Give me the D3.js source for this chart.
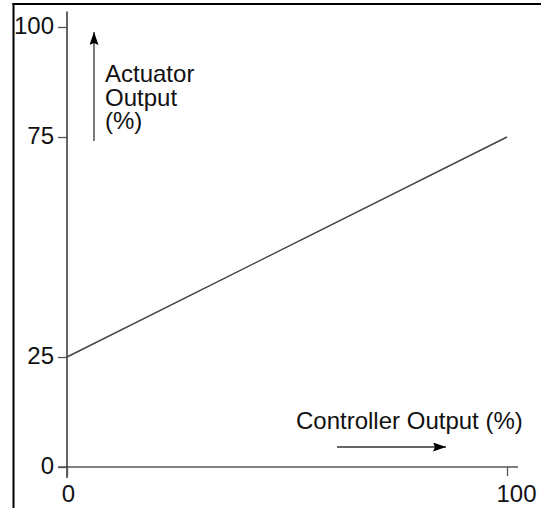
<!DOCTYPE html>
<html>
<head>
<meta charset="utf-8">
<script src="https://cdn.jsdelivr.net/npm/d3@7"></script>
<style>
  html, body { margin: 0; padding: 0; background: #fff; }
  text { font-family: "Liberation Sans", Arial, sans-serif; fill: #111; }
</style>
</head>
<body>
<svg id="chart" width="541" height="508"></svg>
<script>
// Data
const xTicks = [0, 100];
const yTicks = [0, 25, 75, 100];
const controllerOutput = [0, 100];
const actuatorOutput = [25, 75];
const yTitleLines = ["Actuator", "Output", "(%)"];
const xTitle = "Controller Output (%)";

const svg = d3.select("#chart");
const W = 541, H = 508;
const FS = 24;

const x = d3.scaleLinear().domain([0, 100]).range([67, 507]);
const y = d3.scaleLinear().domain([0, 100]).range([467, 27]);

// frame (left and top borders)
svg.append("line").attr("x1", 13.5).attr("x2", 13.5).attr("y1", 3).attr("y2", H)
  .attr("stroke", "#000").attr("stroke-width", 2);
svg.append("line").attr("x1", 12.5).attr("x2", W).attr("y1", 4).attr("y2", 4)
  .attr("stroke", "#000").attr("stroke-width", 2);

// arrow marker
const defs = svg.append("defs");
defs.append("marker").attr("id", "arr").attr("viewBox", "0 0 13 9")
  .attr("refX", 13).attr("refY", 4.5).attr("markerWidth", 13).attr("markerHeight", 9)
  .attr("markerUnits", "userSpaceOnUse").attr("orient", "auto")
  .append("path").attr("d", "M0,0 L13,4.5 L0,9 L2,4.5 Z").attr("fill", "#000");

// x axis line (extended)
svg.append("line").attr("x1", x(-2)).attr("x2", x(102.5)).attr("y1", y(0)).attr("y2", y(0))
  .attr("stroke", "#555").attr("stroke-width", 1.5);
// y axis line (extended)
svg.append("line").attr("x1", x(0)).attr("x2", x(0)).attr("y1", y(103.5)).attr("y2", y(-2.5))
  .attr("stroke", "#111").attr("stroke-width", 1.3);

// Y axis ticks
const yAxis = d3.axisLeft(y).tickValues(yTicks).tickSize(9).tickPadding(4).tickFormat(d3.format("d"));
const gy = svg.append("g").attr("transform", `translate(${x(0)},0)`).call(yAxis);
gy.select(".domain").remove();
gy.selectAll(".tick line").attr("stroke", "#555").attr("stroke-width", 1.3);
gy.selectAll(".tick text").attr("font-size", FS).attr("font-family", "Liberation Sans, Arial, sans-serif")
  .attr("fill", "#111").attr("dy", "0.25em");

// X axis ticks
const xAxis = d3.axisBottom(x).tickValues(xTicks).tickSize(9).tickPadding(9).tickFormat(d3.format("d"));
const gx = svg.append("g").attr("transform", `translate(0,${y(0)})`).call(xAxis);
gx.select(".domain").remove();
gx.selectAll(".tick line").attr("stroke", "#555").attr("stroke-width", 1.3);
gx.selectAll(".tick text").attr("font-size", FS).attr("font-family", "Liberation Sans, Arial, sans-serif")
  .attr("fill", "#111")
  .attr("dx", d => d === 100 ? 9 : 1);

// data line
const line = d3.line().x(d => x(d[0])).y(d => y(d[1]));
svg.append("path")
  .datum(controllerOutput.map((c, i) => [c, actuatorOutput[i]]))
  .attr("d", line).attr("fill", "none").attr("stroke", "#444").attr("stroke-width", 1.4);

// y arrow and title
svg.append("line").attr("x1", 94).attr("x2", 94).attr("y1", 141).attr("y2", 32)
  .attr("stroke", "#333").attr("stroke-width", 1.3).attr("marker-end", "url(#arr)");
svg.append("text").attr("x", 105).attr("y", 82).attr("font-size", FS)
  .selectAll("tspan").data(yTitleLines).join("tspan")
  .attr("x", 105).attr("dy", (d, i) => i === 0 ? 0 : 23.5).text(d => d);

// x arrow and title
svg.append("text").attr("x", 296).attr("y", 429).attr("font-size", FS).text(xTitle);
svg.append("line").attr("x1", 337).attr("x2", 446).attr("y1", 447).attr("y2", 447)
  .attr("stroke", "#333").attr("stroke-width", 1.3).attr("marker-end", "url(#arr)");
</script>
</body>
</html>
